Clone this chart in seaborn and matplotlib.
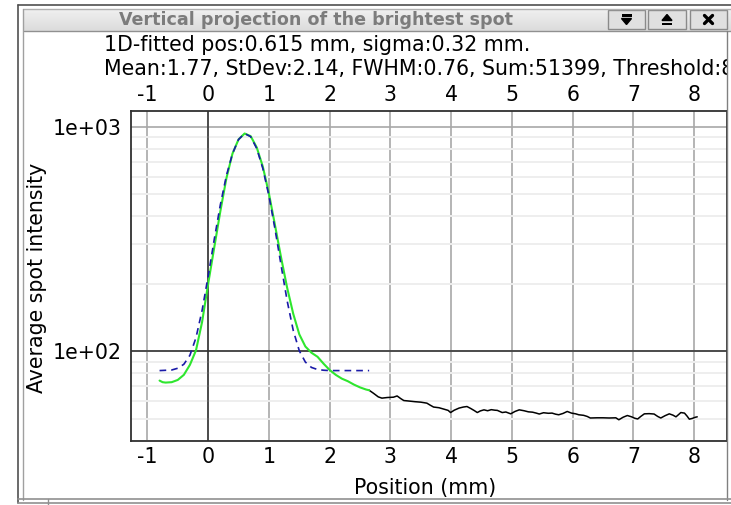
import numpy as np
import pandas as pd
import matplotlib
matplotlib.use("Agg")
import matplotlib.pyplot as plt
import seaborn as sns
from matplotlib.patches import Rectangle, Polygon
from matplotlib.lines import Line2D
from matplotlib.ticker import FixedLocator, LogLocator, NullFormatter

# ---------------------------------------------------------------------------
# Data
# ---------------------------------------------------------------------------
# measured profile (green part, inside the fit window)
prof_x = [-0.80, -0.75, -0.70, -0.60, -0.50, -0.40, -0.30, -0.20, -0.10, 0.00,
          0.10, 0.20, 0.30, 0.40, 0.50, 0.60, 0.70, 0.80, 0.90, 1.00,
          1.10, 1.20, 1.30, 1.40, 1.50, 1.60, 1.70, 1.80, 1.90, 2.00,
          2.10, 2.20, 2.30, 2.40, 2.50, 2.60, 2.65]
prof_y = [74.0, 72.8, 72.5, 72.8, 74.5, 78.5, 87.0, 101.0, 135.0, 200.0,
          290.0, 420.0, 590.0, 760.0, 880.0, 935.0, 910.0, 810.0, 665.0, 505.0,
          365.0, 262.0, 192.0, 147.0, 119.0, 105.0, 98.5, 94.5, 88.0, 82.5,
          78.5, 75.5, 73.5, 71.0, 69.0, 67.5, 67.0]

# gaussian fit (blue dashed), pos 0.615 mm, sigma 0.32 mm
fit_x = [-0.80, -0.60, -0.50, -0.40, -0.30, -0.20, -0.10, 0.00, 0.10, 0.20,
         0.30, 0.40, 0.50, 0.60, 0.70, 0.80, 0.90, 1.00, 1.10, 1.20,
         1.30, 1.40, 1.50, 1.60, 1.70, 1.80, 1.90, 2.00, 2.30, 2.65]
fit_y = [82.0, 82.5, 84.0, 87.5, 96.0, 115.0, 152.0, 216.0, 315.0, 449.0,
         606.0, 760.0, 879.0, 935.0, 905.0, 801.0, 653.0, 494.0, 351.0, 242.0,
         168.0, 124.0, 100.5, 89.5, 84.7, 82.9, 82.3, 82.0, 82.0, 82.0]

# measured profile outside the fit window (black tail)
tail_x = [2.65, 2.72, 2.80, 2.86, 2.95, 3.05, 3.11, 3.17, 3.22, 3.30,
          3.40, 3.50, 3.60, 3.65, 3.71, 3.80, 3.88, 3.95, 3.99, 4.05,
          4.13, 4.20, 4.26, 4.32, 4.38, 4.43, 4.48, 4.54, 4.60, 4.66,
          4.72, 4.76, 4.84, 4.90, 4.98, 5.05, 5.12, 5.20, 5.27, 5.34,
          5.40, 5.45, 5.52, 5.60, 5.66, 5.72, 5.77, 5.84, 5.91, 5.98,
          6.05, 6.10, 6.18, 6.24, 6.29, 6.40, 6.50, 6.60, 6.71, 6.76,
          6.83, 6.90, 6.97, 7.02, 7.07, 7.12, 7.18, 7.26, 7.34, 7.40,
          7.45, 7.52, 7.59, 7.65, 7.70, 7.75, 7.78, 7.84, 7.88, 7.92,
          7.97, 8.02, 8.05]
tail_y = [67.0, 65.0, 62.6, 61.8, 62.2, 62.4, 63.2, 61.5, 60.3, 60.0,
          59.6, 59.3, 58.7, 57.6, 56.4, 56.0, 55.2, 54.5, 53.3, 54.6,
          55.8, 56.4, 56.7, 55.6, 54.4, 53.3, 54.2, 54.8, 54.3, 54.9,
          54.6, 54.5, 53.3, 53.6, 52.6, 53.9, 54.8, 54.3, 53.7, 53.5,
          53.0, 52.5, 53.2, 52.9, 53.0, 52.4, 52.1, 52.8, 53.9, 53.0,
          52.6, 52.1, 51.8, 51.2, 50.4, 50.5, 50.5, 50.4, 50.5, 49.5,
          50.8, 51.7, 51.0, 50.3, 49.9, 51.2, 52.6, 52.7, 52.5, 51.2,
          50.4, 51.6, 52.6, 51.9, 51.0, 52.4, 53.3, 53.0, 51.5, 49.8,
          50.2, 50.8, 51.0]

x_ticks = [-1, 0, 1, 2, 3, 4, 5, 6, 7, 8]
y_ticks = [100, 1000]
y_tick_labels = ["1e+02", "1e+03"]

window_title = "Vertical projection of the brightest spot"
info_line1 = "1D-fitted pos:0.615 mm, sigma:0.32 mm."
info_line2 = "Mean:1.77, StDev:2.14, FWHM:0.76, Sum:51399, Threshold:8"

# ---------------------------------------------------------------------------
# Figure + window frame (pixel helpers)
# ---------------------------------------------------------------------------
sns.set_theme(style="white")
plt.rcParams["font.family"] = ["DejaVu Sans"]

W, H = 731, 505
FS = 14.8
fig = plt.figure(figsize=(W / 100, H / 100), dpi=100)
fig.patch.set_facecolor("white")


def fx(px):
    return px / W


def fy(py):
    return 1 - py / H


def rect(x0, y0, x1, y1, **kw):
    fig.add_artist(Rectangle((fx(x0), fy(y1)), fx(x1) - fx(x0), fy(y0) - fy(y1),
                             transform=fig.transFigure, **kw))


def line(xs, ys, **kw):
    fig.add_artist(Line2D([fx(v) for v in xs], [fy(v) for v in ys],
                          transform=fig.transFigure, **kw))


# title bar with a soft gradient
tb = fig.add_axes([fx(24), fy(31), fx(W) - fx(24), fy(9) - fy(31)])
grad = np.linspace(0.94, 0.86, 40).reshape(-1, 1)
tb.imshow(grad, aspect="auto", cmap="gray", vmin=0, vmax=1, extent=[0, 1, 0, 1])
tb.set_axis_off()
fig.text(fx(316), fy(20), window_title, ha="center", va="center",
         fontsize=12.6, fontweight="bold", color="#7c7c7c")

# window borders
line([18, W], [5, 5], color="#505050", lw=1.2)
line([18, 18], [5, 503], color="#505050", lw=1.2)
line([23, W], [9, 9], color="#b0b0b0", lw=1.0)
line([23, 23], [9, 500], color="#a0a0a0", lw=1.0)
line([24, W], [31, 31], color="#909090", lw=1.0)
line([727, 727], [31, 500], color="#808080", lw=1.0)
line([18, W], [499, 499], color="#909090", lw=1.2)
line([18, W], [503, 503], color="#909090", lw=1.2)
line([48, 48], [499, 505], color="#909090", lw=1.0)

# title-bar buttons
for bx0, bx1 in [(608, 645), (648, 686), (690, 727)]:
    rect(bx0, 10, bx1, 29, facecolor="#e0e0e0", edgecolor="#8a8a8a", lw=1.0)

cx, cy = 626.5, 19.5
fig.add_artist(Polygon([(fx(cx - 5), fy(cy - 1)), (fx(cx + 5), fy(cy - 1)), (fx(cx), fy(cy + 5))],
                       closed=True, transform=fig.transFigure, color="black"))
rect(cx - 5, cy - 5, cx + 5, cy - 3, facecolor="black", edgecolor="none")
cx = 667
fig.add_artist(Polygon([(fx(cx - 5), fy(cy + 1)), (fx(cx + 5), fy(cy + 1)), (fx(cx), fy(cy - 5))],
                       closed=True, transform=fig.transFigure, color="black"))
rect(cx - 5, cy + 3, cx + 5, cy + 5, facecolor="black", edgecolor="none")
cx = 708.5
line([cx - 4, cx + 4], [cy - 4, cy + 4], color="black", lw=2.4)
line([cx - 4, cx + 4], [cy + 4, cy - 4], color="black", lw=2.4)

# info text, clipped at the window content edge
info_ax = fig.add_axes([fx(24), fy(90), fx(727) - fx(24), fy(32) - fy(90)])
info_ax.set_axis_off()
info_ax.set_xlim(24, 727)
info_ax.set_ylim(90, 32)
info_ax.text(104, 45, info_line1, ha="left", va="center", fontsize=FS,
             color="black", clip_on=True)
info_ax.text(104, 69, info_line2, ha="left", va="center", fontsize=FS,
             color="black", clip_on=True)

# ---------------------------------------------------------------------------
# Plot
# ---------------------------------------------------------------------------
ax = fig.add_axes([fx(131), fy(441), fx(727) - fx(131), fy(111) - fy(441)])

df_prof = pd.DataFrame({"pos": prof_x, "val": prof_y})
df_fit = pd.DataFrame({"pos": fit_x, "val": fit_y})
df_tail = pd.DataFrame({"pos": tail_x, "val": tail_y})

sns.lineplot(data=df_tail, x="pos", y="val", ax=ax, color="black", lw=1.1,
             sort=False, estimator=None, zorder=3)
sns.lineplot(data=df_prof, x="pos", y="val", ax=ax, color="#2ee62e", lw=1.5,
             sort=False, estimator=None, zorder=4)
sns.lineplot(data=df_fit, x="pos", y="val", ax=ax, color="#1a1aa8", lw=1.2,
             sort=False, estimator=None, zorder=5, dashes=False, linestyle=(0, (4, 3)))

ax.set_yscale("log")
ax.set_xlim(-1.27, 8.54)
ax.set_ylim(39.8, 1178)

ax.xaxis.set_major_locator(FixedLocator(x_ticks))
ax.set_xticks(x_ticks)
ax.set_xticklabels([str(t) for t in x_ticks])
ax.set_yticks(y_ticks)
ax.set_yticklabels(y_tick_labels)
ax.yaxis.set_minor_locator(LogLocator(base=10, subs=np.arange(2, 10)))
ax.yaxis.set_minor_formatter(NullFormatter())

ax.tick_params(axis="x", which="both", length=0, top=True, labeltop=True,
               bottom=True, labelbottom=True, labelsize=FS, pad=4, colors="black")
ax.tick_params(axis="y", which="both", length=0, labelsize=FS, pad=7, colors="black")

ax.grid(axis="x", which="major", color="#a8a8a8", lw=1.2)
ax.grid(axis="y", which="major", color="#a8a8a8", lw=1.2)
ax.grid(axis="y", which="minor", color="#eeeeee", lw=1.4)
ax.axvline(0, color="#303030", lw=1.1, zorder=2)
ax.axhline(100, color="#303030", lw=1.1, zorder=2)
ax.set_axisbelow(True)

for sp in ax.spines.values():
    sp.set_color("#303030")
    sp.set_linewidth(1.3)

ax.set_xlabel("Position (mm)", fontsize=FS, color="black")
ax.set_ylabel("Average spot intensity", fontsize=FS, color="black")
ax.xaxis.set_label_coords((fx(425) - fx(131)) / (fx(727) - fx(131)),
                          (fy(488) - fy(441)) / (fy(111) - fy(441)))
ax.yaxis.set_label_coords((fx(37) - fx(131)) / (fx(727) - fx(131)),
                          (fy(278) - fy(441)) / (fy(111) - fy(441)))
ax.xaxis.label.set_va("center")
ax.yaxis.label.set_va("center")

fig.savefig("out.png", dpi=100, facecolor="white")
plt.close(fig)
